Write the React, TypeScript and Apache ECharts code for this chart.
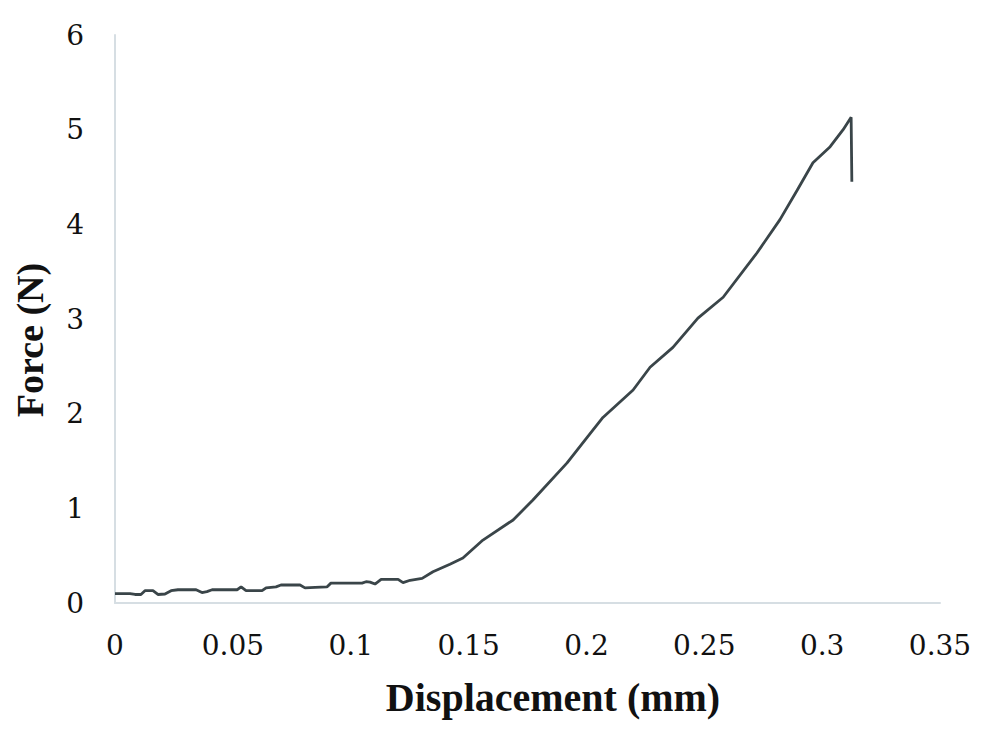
import React, { useEffect, useRef } from "react";
import * as echarts from "echarts";

const displacement: number[] = [
  0, 0.0064, 0.0085, 0.011, 0.0127, 0.0161, 0.0182, 0.0212, 0.0238, 0.0267,
  0.0344, 0.0369, 0.039, 0.0412, 0.0518, 0.0535, 0.0556, 0.0624, 0.0641, 0.0683,
  0.0704, 0.0785, 0.0806, 0.0849, 0.0899, 0.0916, 0.1048, 0.1065, 0.1082, 0.1103,
  0.1129, 0.1201, 0.1222, 0.1252, 0.1303, 0.1349, 0.1421, 0.1476, 0.1561, 0.1689,
  0.1773, 0.1918, 0.2003, 0.207, 0.2198, 0.227, 0.2367, 0.2473, 0.258, 0.2724,
  0.2821, 0.2894, 0.2961, 0.3034, 0.3089, 0.3123, 0.3126,
];

const force: number[] = [
  0.1, 0.1, 0.09, 0.09, 0.13, 0.13, 0.09, 0.095, 0.13, 0.14,
  0.14, 0.11, 0.12, 0.14, 0.14, 0.17, 0.13, 0.13, 0.16, 0.17,
  0.19, 0.19, 0.16, 0.165, 0.17, 0.21, 0.21, 0.225, 0.22, 0.2,
  0.25, 0.25, 0.215, 0.24, 0.26, 0.33, 0.41, 0.475, 0.665, 0.877,
  1.088, 1.48, 1.75, 1.96, 2.25, 2.49, 2.7, 3.01, 3.23, 3.7,
  4.05, 4.36, 4.65, 4.82, 5.0, 5.13, 4.45,
];

const xTitle = "Displacement (mm)";
const yTitle = "Force (N)";

export default function App() {
  const ref = useRef<HTMLDivElement>(null);
  useEffect(() => {
    if (!ref.current) return;
    const chart = echarts.init(ref.current, undefined, { renderer: "svg" });
    const axisLine = { show: true, lineStyle: { color: "#d6dee3", width: 2 } };
    chart.setOption({
      animation: false,
      backgroundColor: "#ffffff",
      grid: { left: 115, right: 60, top: 35, bottom: 133 },
      xAxis: {
        type: "value",
        min: 0,
        max: 0.35,
        interval: 0.05,
        axisLine,
        axisTick: { show: false },
        splitLine: { show: false },
        axisLabel: {
          margin: 28,
          color: "#111",
          fontFamily: "DejaVu Serif",
          fontSize: 28,
        },
      },
      yAxis: {
        type: "value",
        min: 0,
        max: 6,
        interval: 1,
        axisLine,
        axisTick: { show: false },
        splitLine: { show: false },
        axisLabel: {
          margin: 31,
          color: "#111",
          fontFamily: "DejaVu Serif",
          fontSize: 28,
        },
      },
      series: [
        {
          type: "line",
          data: displacement.map((d, i) => [d, force[i]]),
          showSymbol: false,
          symbol: "none",
          lineStyle: { color: "#3a4549", width: 2.8 },
        },
      ],
      graphic: [
        {
          type: "text",
          x: 553,
          y: 697,
          style: {
            text: xTitle,
            font: "bold 40px 'Liberation Serif'",
            fill: "#111",
            textAlign: "center",
            textVerticalAlign: "middle",
          },
        },
        {
          type: "text",
          x: 30,
          y: 340,
          rotation: Math.PI / 2,
          style: {
            text: yTitle,
            font: "bold 38px 'Liberation Serif'",
            fill: "#111",
            textAlign: "center",
            textVerticalAlign: "middle",
          },
        },
      ],
    });
    return () => chart.dispose();
  }, []);
  return (
    <div
      ref={ref}
      style={{ position: "fixed", left: 0, top: 0, width: 1000, height: 736 }}
    />
  );
}
